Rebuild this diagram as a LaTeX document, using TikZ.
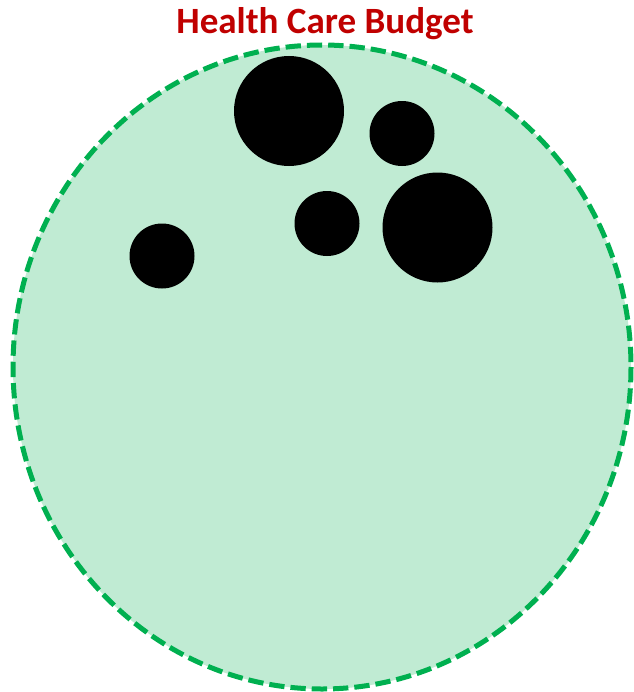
\documentclass[tikz,border=0pt]{standalone}
\usepackage{fontspec}
\setmainfont{Carlito}
\definecolor{titlered}{HTML}{C00000}
\definecolor{budgetfill}{HTML}{C0EBD3}
\definecolor{budgetline}{HTML}{00B050}
\tikzset{
  budget/.style={draw=budgetline, fill=budgetfill, line width=3.75pt, dash pattern=on 11.5pt off 4.5pt},
  item/.style={fill=black, draw=none},
  titletext/.style={font=\bfseries\fontsize{27.8}{33}\selectfont, text=titlered, inner sep=0pt, anchor=base}
}
\begin{document}
\begin{tikzpicture}[x=0.75pt,y=-0.75pt]
\useasboundingbox (0,0) rectangle (634,692);
\draw[budget] (322,367) ellipse [x radius=309, y radius=322];
\node[titletext] (title) at (325,34) {Health Care Budget};
\fill[item] (289,111) circle [radius=55];
\fill[item] (402,133.5) circle [radius=32.5];
\fill[item] (327,223.5) circle [radius=32.5];
\fill[item] (437.5,227.5) circle [radius=55];
\fill[item] (162,256) circle [radius=32.5];
\end{tikzpicture}
\end{document}
